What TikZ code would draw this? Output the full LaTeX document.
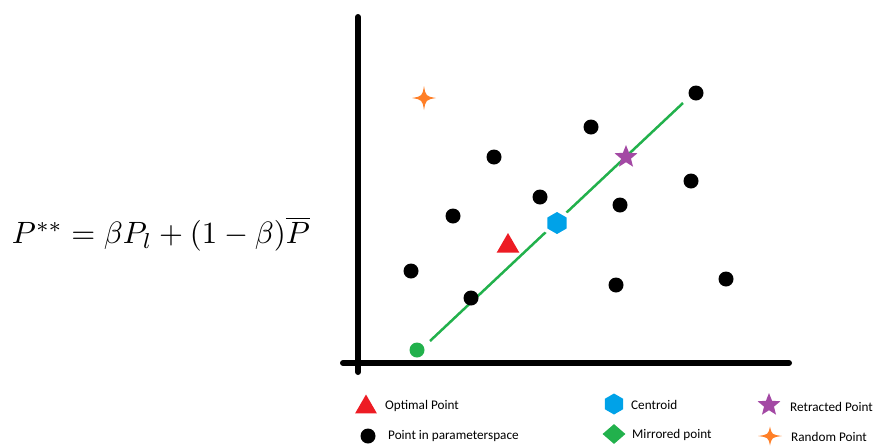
\documentclass[tikz,border=0pt]{standalone}
\usepackage{fontspec}
\newfontfamily\legendfont{Carlito}
\usetikzlibrary{shapes.geometric,calc}
\definecolor{dotgreen}{RGB}{34,177,76}
\definecolor{cblue}{RGB}{0,162,232}
\definecolor{cred}{RGB}{237,28,36}
\definecolor{cpurple}{RGB}{163,73,164}
\definecolor{corange}{RGB}{255,127,39}
\tikzset{
  axis/.style={line width=6pt, line cap=round},
  pt/.style={circle, fill=black, inner sep=0pt, minimum size=15pt},
  optimal/.style={regular polygon, regular polygon sides=3, fill=cred, inner sep=0pt, minimum size=26pt},
  centroid/.style={regular polygon, regular polygon sides=6, shape border rotate=90, fill=cblue, draw=white, line width=4pt, inner sep=0pt, minimum size=27pt},
  retracted/.style={star, star points=5, star point ratio=2.3, fill=cpurple, inner sep=0pt, minimum size=24pt},
  mirrored/.style={circle, fill=dotgreen, inner sep=0pt, minimum size=15pt},
  mirrleg/.style={diamond, fill=dotgreen, inner sep=0pt, minimum width=23pt, minimum height=20pt},
  legtext/.style={font=\legendfont\fontsize{13.2}{15}\selectfont, anchor=west, inner sep=0pt},
}
\newcommand{\fourstar}[3]{%
  \fill[corange] ($(#1)+(0,#3)$) .. controls ($(#1)+(0.15*#2,0.15*#3)$) .. ($(#1)+(#2,0)$)
    .. controls ($(#1)+(0.15*#2,-0.15*#3)$) .. ($(#1)+(0,-#3)$)
    .. controls ($(#1)+(-0.15*#2,-0.15*#3)$) .. ($(#1)+(-#2,0)$)
    .. controls ($(#1)+(-0.15*#2,0.15*#3)$) .. cycle;}
\begin{document}
\begin{tikzpicture}[x=1pt,y=-1pt]
\useasboundingbox (0,0) rectangle (876,445);
% formula
\node[inner sep=0pt] (formula) at (161,234) {\resizebox{298pt}{!}{$P^{**}=\beta P_l+(1-\beta)\overline{P}$}};
% axes
\coordinate (ytop) at (358,17);
\coordinate (ybot) at (358,372);
\coordinate (xl) at (343,363);
\coordinate (xr) at (789,363);
\draw[axis] (ytop) -- (ybot);
\draw[axis] (xl) -- (xr);
% green line
\coordinate (gA) at (430,341);
\coordinate (gB) at (683,103);
\draw[dotgreen, line width=2.5pt] (gA) -- (gB);
% points
\node[pt] (p1) at (411,271) {};
\node[pt] (p2) at (453,216) {};
\node[pt] (p3) at (494,157) {};
\node[pt] (p4) at (540,197) {};
\node[pt] (p5) at (591,127) {};
\node[pt] (p6) at (620,205) {};
\node[pt] (p7) at (691,181) {};
\node[pt] (p8) at (696,93) {};
\node[pt] (p9) at (471,298) {};
\node[pt] (p10) at (616,285) {};
\node[pt] (p11) at (726,279) {};
\node[mirrored] (mir) at (417,350) {};
\node[optimal] (opt) at (508,246) {};
\node[centroid] (cen) at (557,223) {};
\node[retracted] (ret) at (626,157) {};
\coordinate (rnd) at (424,98);
\fourstar{rnd}{12}{12}
% legend
\node[optimal, minimum size=25pt] (lopt) at (366,407) {};
\node[legtext] (topt) at (385,406) {Optimal Point};
\node[pt, minimum size=15pt] (lpt) at (368,436) {};
\node[legtext] (tpt) at (388,436) {Point in parameterspace};
\node[centroid, draw=none, minimum size=21pt] (lcen) at (614,404) {};
\node[legtext] (tcen) at (631,405) {Centroid};
\node[mirrleg] (lmir) at (614,434) {};
\node[legtext] (tmir) at (632,435) {Mirrored point};
\node[retracted] (lret) at (769,405) {};
\node[legtext] (tret) at (790,407) {Retracted Point};
\coordinate (lrnd) at (770,436);
\fourstar{lrnd}{12}{9.5}
\node[legtext] (trnd) at (791,437) {Random Point};
\end{tikzpicture}
\end{document}
